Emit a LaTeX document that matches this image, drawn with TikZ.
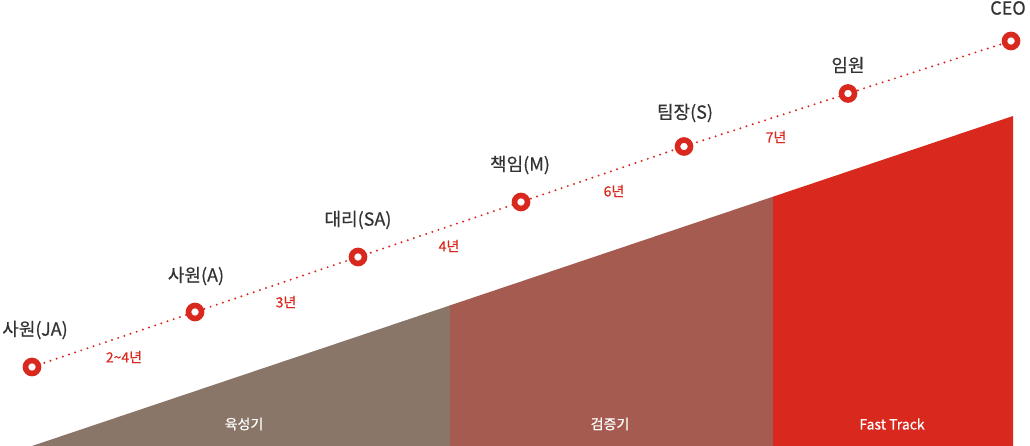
\documentclass[tikz,border=0pt]{standalone}
\usepackage{fontspec}
\setmainfont{Noto Sans CJK KR}
\newfontfamily\krmedium[FakeBold=0.5]{Noto Sans CJK KR}
\definecolor{careerRed}{RGB}{217,41,30}
\definecolor{careerBrown}{RGB}{138,118,105}
\definecolor{careerRust}{RGB}{166,91,80}
\definecolor{careerText}{RGB}{51,51,51}
\tikzset{
  stepdot/.style={circle,draw=careerRed,fill=white,line width=5.6pt,minimum size=13pt,inner sep=0pt},
  rank/.style={text=careerText,font=\krmedium\fontsize{18}{18}\selectfont,inner sep=0pt},
  years/.style={text=careerRed,font=\krmedium\fontsize{14}{14}\selectfont,inner sep=0pt},
  phase/.style={text=white,font=\krmedium\fontsize{14}{14}\selectfont,inner sep=0pt},
  track/.style={careerRed,line width=2.2pt,dash pattern=on 0pt off 6.5pt,line cap=round}
}
\begin{document}
\begin{tikzpicture}[x=1pt,y=-1pt]
		\useasboundingbox (0,0) rectangle (1030,446);

		% the rising wedge
		\coordinate (WedgeLeft) at (32,446);
		\coordinate (WedgeOne) at (450,305.4);
		\coordinate (WedgeOneBase) at (450,446);
		\coordinate (WedgeTwo) at (773,196.7);
		\coordinate (WedgeTwoBase) at (773,446);
		\coordinate (WedgeTop) at (1013,116);
		\coordinate (WedgeRight) at (1013,446);

		\fill[careerBrown] (WedgeLeft) -- (WedgeOne) -- (WedgeOneBase) -- cycle;
		\fill[careerRust] (WedgeOneBase) -- (WedgeOne) -- (WedgeTwo) -- (WedgeTwoBase) -- cycle;
		\fill[careerRed] (WedgeTwoBase) -- (WedgeTwo) -- (WedgeTop) -- (WedgeRight) -- cycle;

		\node[phase] (Grow) at (244,424) {육성기};
		\node[phase] (Prove) at (610,424) {검증기};
		\node[phase] (Fast) at (892,424) {Fast Track};

		% career steps
		\coordinate (JA) at (32,367);
		\coordinate (A) at (195,312);
		\coordinate (SA) at (358,257);
		\coordinate (M) at (521,202);
		\coordinate (S) at (684,146.5);
		\coordinate (Exec) at (848,93.5);
		\coordinate (CEO) at (1011,41);

		\draw[track] (JA) -- (A) -- (SA) -- (M) -- (S) -- (Exec) -- (CEO);

		\foreach \p in {JA,A,SA,M,S,Exec,CEO}
			\node[stepdot] at (\p) {};

		\node[rank] (JALabel) at (35,330) {사원(JA)};
		\node[rank] (ALabel) at (196,276) {사원(A)};
		\node[rank] (SALabel) at (358,220) {대리(SA)};
		\node[rank] (MLabel) at (520,165) {책임(M)};
		\node[rank] (SLabel) at (685,113) {팀장(S)};
		\node[rank] (ExecLabel) at (848,65) {임원};
		\node[rank] (CEOLabel) at (1008,8) {CEO};

		\node[years] (YearsOne) at (124,357) {2\textasciitilde4년};
		\node[years] (YearsTwo) at (286,302) {3년};
		\node[years] (YearsThree) at (449,246) {4년};
		\node[years] (YearsFour) at (614,191) {6년};
		\node[years] (YearsFive) at (776,137) {7년};
	\end{tikzpicture}
\end{document}
